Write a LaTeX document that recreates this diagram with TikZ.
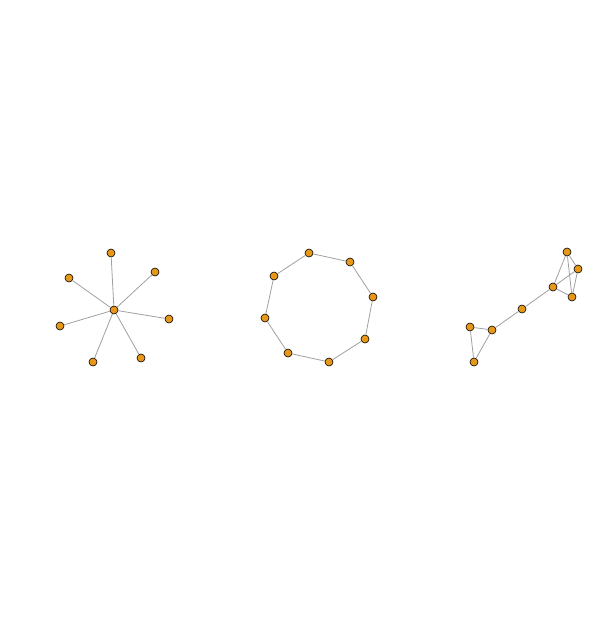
\documentclass[tikz,border=0pt]{standalone}
\usepackage{tikz}
\definecolor{vorange}{RGB}{232,152,24}
\definecolor{egray}{RGB}{160,160,160}

\begin{document}
\begin{tikzpicture}[
			     x=1pt, y=-1pt,
			     vertex/.style={circle, draw=black, fill=vorange, line width=0.6pt, minimum size=8pt, inner sep=0pt},
			     link/.style={draw=egray, line width=0.8pt}
			     ]
\useasboundingbox (0,0) rectangle (614,629);
% star
\node[vertex] (s0) at (114,310) {};
\node[vertex] (s1) at (111,253) {};
\node[vertex] (s2) at (155,272) {};
\node[vertex] (s3) at (169,319) {};
\node[vertex] (s4) at (141,358) {};
\node[vertex] (s5) at (93,362) {};
\node[vertex] (s6) at (60,326) {};
\node[vertex] (s7) at (69,278) {};
% ring
\node[vertex] (r1) at (309,253) {};
\node[vertex] (r2) at (350,262) {};
\node[vertex] (r3) at (373,297) {};
\node[vertex] (r4) at (365,339) {};
\node[vertex] (r5) at (329,362) {};
\node[vertex] (r6) at (288,353) {};
\node[vertex] (r7) at (265,318) {};
\node[vertex] (r8) at (274,276) {};
% chain
\node[vertex] (c1) at (567,252) {};
\node[vertex] (c2) at (578,269) {};
\node[vertex] (c3) at (553,287) {};
\node[vertex] (c4) at (572,297) {};
\node[vertex] (c5) at (522,309) {};
\node[vertex] (c6) at (492,330) {};
\node[vertex] (c7) at (470,327) {};
\node[vertex] (c8) at (474,362) {};
% edges
\foreach \i in {1,...,7}
  \path[link] (s0) -- (s\i);
\foreach \i/\j in {1/2,2/3,3/4,4/5,5/6,6/7,7/8,8/1}
  \path[link] (r\i) -- (r\j);
\foreach \i/\j in {1/2,1/3,1/4,2/3,2/4,3/4,3/5,5/6,6/7,6/8,7/8}
  \path[link] (c\i) -- (c\j);
\end{tikzpicture}
\end{document}
